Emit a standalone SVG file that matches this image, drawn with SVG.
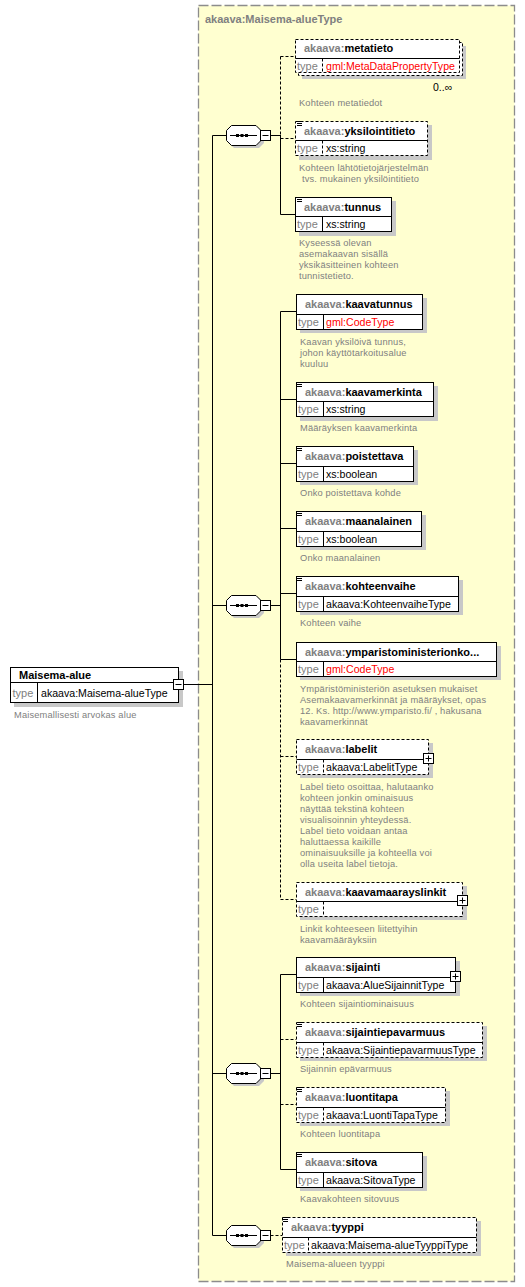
<svg xmlns="http://www.w3.org/2000/svg" width="525" height="1287" viewBox="0 0 525 1287">
<style>
text{font-family:"Liberation Sans",Arial,sans-serif}
.bx{fill:#fff;stroke:#000;stroke-width:1}
.dsh{stroke-dasharray:3,2}
.sh{fill:#c8c8c8}
.nm{font-size:11px;font-weight:bold;fill:#000}
.pf{fill:#808080}
.tl{font-size:11px;fill:#808080}
.tv{font-size:10.6px;fill:#000}
.red{fill:#f00}
.ds{font-size:9.3px;fill:#808080;letter-spacing:0.15px}
.ln{stroke:#000;stroke-width:1;fill:none}
.ico{stroke:#000;stroke-width:1}
.oc{fill:#fff;stroke:#000;stroke-width:1}
</style>
<rect x="198.5" y="5.5" width="316" height="1276" fill="#FFFFD0" stroke="#8c8c8c" stroke-width="1.3" stroke-dasharray="10,3"/>
<text x="205" y="23" style="font-size:11px;font-weight:bold;fill:#808080">akaava:Maisema-alueType</text>

<g id="connectors">
<line class="ln" x1="183" y1="684.5" x2="212.5" y2="684.5"/>
<line class="ln" x1="212.5" y1="135.5" x2="212.5" y2="1235.5"/>
<line class="ln" x1="212.5" y1="135.5" x2="226" y2="135.5"/>
<line class="ln" x1="212.5" y1="605.5" x2="226" y2="605.5"/>
<line class="ln" x1="212.5" y1="1073.5" x2="226" y2="1073.5"/>
<line class="ln" x1="212.5" y1="1235.5" x2="226" y2="1235.5"/>
<line class="ln" x1="270.5" y1="135.5" x2="281" y2="135.5"/>
<line class="ln dsh" x1="280.5" y1="56.5" x2="280.5" y2="135.5"/>
<line class="ln" x1="280.5" y1="135.5" x2="280.5" y2="214.5"/>
<line class="ln dsh" x1="280.5" y1="56.5" x2="295" y2="56.5"/>
<line class="ln dsh" x1="280.5" y1="138.5" x2="295" y2="138.5"/>
<line class="ln" x1="280.5" y1="214.5" x2="295" y2="214.5"/>
<line class="ln" x1="270.5" y1="605.5" x2="281" y2="605.5"/>
<line class="ln" x1="280.5" y1="311.5" x2="280.5" y2="659.5"/>
<line class="ln dsh" x1="280.5" y1="659.5" x2="280.5" y2="899.5"/>
<line class="ln" x1="280.5" y1="311.5" x2="296" y2="311.5"/>
<line class="ln" x1="280.5" y1="399.5" x2="296" y2="399.5"/>
<line class="ln" x1="280.5" y1="463.5" x2="296" y2="463.5"/>
<line class="ln" x1="280.5" y1="528.5" x2="296" y2="528.5"/>
<line class="ln" x1="280.5" y1="593.5" x2="296" y2="593.5"/>
<line class="ln" x1="280.5" y1="659.5" x2="296" y2="659.5"/>
<line class="ln dsh" x1="280.5" y1="756.5" x2="296" y2="756.5"/>
<line class="ln dsh" x1="280.5" y1="899.5" x2="296" y2="899.5"/>
<line class="ln" x1="270.5" y1="1073.5" x2="281" y2="1073.5"/>
<line class="ln" x1="280.5" y1="974.5" x2="280.5" y2="1169.5"/>
<line class="ln" x1="280.5" y1="974.5" x2="296" y2="974.5"/>
<line class="ln dsh" x1="280.5" y1="1039.5" x2="296" y2="1039.5"/>
<line class="ln dsh" x1="280.5" y1="1104.5" x2="296" y2="1104.5"/>
<line class="ln" x1="280.5" y1="1169.5" x2="296" y2="1169.5"/>
<line class="ln dsh" x1="270.5" y1="1235.5" x2="282" y2="1235.5"/>
</g>

<defs>
<g id="seqshape">
<polygon points="234,3 259,3 264,8 264,18 259,23 234,23 229,18 229,8" fill="#c8c8c8"/>
<polygon class="oc" points="231.5,0.5 256,0.5 261,5.5 261,15.5 256,20.5 231.5,20.5 226.5,15.5 226.5,5.5"/>
<line class="ln" x1="230" y1="10.5" x2="257" y2="10.5"/>
<rect x="236" y="9" width="3" height="3" fill="#000"/>
<rect x="240.5" y="9" width="3" height="3" fill="#000"/>
<rect x="245" y="9" width="3" height="3" fill="#000"/>
<rect class="oc" x="260.5" y="5.5" width="10" height="10"/>
<line class="ln" x1="262.5" y1="10.5" x2="268.5" y2="10.5"/>
</g>
<g id="icon">
<line class="ico" x1="0" y1="0.5" x2="5" y2="0.5"/>
<line class="ico" x1="0" y1="2.5" x2="5" y2="2.5"/>
<line class="ico" x1="0" y1="4.5" x2="5" y2="4.5"/>
</g>
<g id="plus">
<rect class="oc" x="-5" y="0.5" width="10" height="10"/>
<line class="ln" x1="-3" y1="5.5" x2="3" y2="5.5"/>
<line class="ln" x1="0" y1="2.5" x2="0" y2="8.5"/>
</g>
</defs>

<g id="seq1"><use href="#seqshape" x="0" y="125"/></g>
<g id="seq2"><use href="#seqshape" x="0" y="595"/></g>
<g id="seq3"><use href="#seqshape" x="0" y="1063"/></g>
<g id="seq4"><use href="#seqshape" x="0" y="1225"/></g>

<g id="node-maisema-alue">
<rect class="sh" x="14" y="671" width="169" height="36"/>
<rect class="bx" x="10.5" y="667.5" width="168" height="35"/>
<line class="ln" x1="10.5" y1="682.5" x2="178.5" y2="682.5"/>
<line class="ln" x1="37.5" y1="682.5" x2="37.5" y2="702.5"/>
<text class="nm" x="19" y="679">Maisema-alue</text>
<text class="tl" x="12.5" y="697">type</text>
<text class="tv" x="41" y="697">akaava:Maisema-alueType</text>
<rect class="oc" x="173.5" y="679.5" width="10" height="10"/>
<line class="ln" x1="175.5" y1="684.5" x2="181.5" y2="684.5"/>
<text class="ds" x="14" y="718">Maisemallisesti arvokas alue</text>
</g>

<g id="node-metatieto">
<rect class="sh" x="302" y="46" width="164" height="33"/>
<rect class="bx dsh" x="298.5" y="42.5" width="164" height="33"/>
<rect class="bx dsh" x="295.5" y="39.5" width="164" height="33"/>
<line class="ln" x1="295.5" y1="58.5" x2="459.5" y2="58.5"/>
<line class="ln dsh" x1="322.5" y1="58.5" x2="322.5" y2="72.5"/>
<text class="nm" x="304" y="52"><tspan class="pf">akaava:</tspan>metatieto</text>
<text class="tl" x="297" y="70">type</text>
<text class="tv red" x="326" y="70">gml:MetaDataPropertyType</text>
<text x="433" y="91" style="font-size:10.5px;fill:#000">0..∞</text>
<text class="ds" x="299" y="106">Kohteen metatiedot</text>
</g>

<g id="node-yksilointitieto">
<rect class="sh" x="299" y="125" width="133" height="35"/>
<rect class="bx dsh" x="295.5" y="121.5" width="132" height="34"/>
<line class="ln" x1="295.5" y1="140.5" x2="427.5" y2="140.5"/>
<line class="ln dsh" x1="322.5" y1="140.5" x2="322.5" y2="155.5"/>
<use href="#icon" x="297" y="121"/>
<text class="nm" x="304" y="135"><tspan class="pf">akaava:</tspan>yksilointitieto</text>
<text class="tl" x="297" y="152">type</text>
<text class="tv" x="326" y="152">xs:string</text>
<text class="ds" x="299" y="171">Kohteen lähtötietojärjestelmän</text>
<text class="ds" x="302" y="182">tvs. mukainen yksilöintitieto</text>
</g>

<g id="node-tunnus">
<rect class="sh" x="299" y="201" width="97" height="35"/>
<rect class="bx" x="295.5" y="197.5" width="96" height="34"/>
<line class="ln" x1="295.5" y1="216.5" x2="391.5" y2="216.5"/>
<line class="ln" x1="322.5" y1="216.5" x2="322.5" y2="231.5"/>
<use href="#icon" x="297" y="197"/>
<text class="nm" x="304" y="211"><tspan class="pf">akaava:</tspan>tunnus</text>
<text class="tl" x="297" y="228">type</text>
<text class="tv" x="326" y="228">xs:string</text>
<text class="ds" x="299" y="246">Kyseessä olevan</text>
<text class="ds" x="299" y="257">asemakaavan sisällä</text>
<text class="ds" x="299" y="268">yksikäsitteinen kohteen</text>
<text class="ds" x="299" y="279">tunnistetieto.</text>
</g>

<g id="node-kaavatunnus">
<rect class="sh" x="300" y="298" width="127" height="35"/>
<rect class="bx" x="296.5" y="294.5" width="126" height="35"/>
<line class="ln" x1="296.5" y1="314.5" x2="422.5" y2="314.5"/>
<line class="ln" x1="323.5" y1="314.5" x2="323.5" y2="329.5"/>
<text class="nm" x="305" y="308"><tspan class="pf">akaava:</tspan>kaavatunnus</text>
<text class="tl" x="298" y="326">type</text>
<text class="tv red" x="326" y="326">gml:CodeType</text>
<text class="ds" x="300" y="345">Kaavan yksilöivä tunnus,</text>
<text class="ds" x="300" y="356">johon käyttötarkoitusalue</text>
<text class="ds" x="300" y="367">kuuluu</text>
</g>

<g id="node-kaavamerkinta">
<rect class="sh" x="300" y="386" width="138" height="35"/>
<rect class="bx" x="296.5" y="382.5" width="137" height="34"/>
<line class="ln" x1="296.5" y1="401.5" x2="433.5" y2="401.5"/>
<line class="ln" x1="323.5" y1="401.5" x2="323.5" y2="416.5"/>
<use href="#icon" x="297" y="382"/>
<text class="nm" x="305" y="396"><tspan class="pf">akaava:</tspan>kaavamerkinta</text>
<text class="tl" x="298" y="413">type</text>
<text class="tv" x="326" y="413">xs:string</text>
<text class="ds" x="300" y="431">Määräyksen kaavamerkinta</text>
</g>

<g id="node-poistettava">
<rect class="sh" x="300" y="450" width="118" height="35"/>
<rect class="bx" x="296.5" y="446.5" width="117" height="35"/>
<line class="ln" x1="296.5" y1="466.5" x2="413.5" y2="466.5"/>
<line class="ln" x1="323.5" y1="466.5" x2="323.5" y2="481.5"/>
<use href="#icon" x="297" y="446"/>
<text class="nm" x="305" y="460"><tspan class="pf">akaava:</tspan>poistettava</text>
<text class="tl" x="298" y="478">type</text>
<text class="tv" x="326" y="478">xs:boolean</text>
<text class="ds" x="300" y="496">Onko poistettava kohde</text>
</g>

<g id="node-maanalainen">
<rect class="sh" x="300" y="515" width="126" height="35"/>
<rect class="bx" x="296.5" y="511.5" width="125" height="35"/>
<line class="ln" x1="296.5" y1="531.5" x2="421.5" y2="531.5"/>
<line class="ln" x1="323.5" y1="531.5" x2="323.5" y2="546.5"/>
<use href="#icon" x="297" y="511"/>
<text class="nm" x="305" y="525"><tspan class="pf">akaava:</tspan>maanalainen</text>
<text class="tl" x="298" y="543">type</text>
<text class="tv" x="326" y="543">xs:boolean</text>
<text class="ds" x="300" y="561">Onko maanalainen</text>
</g>

<g id="node-kohteenvaihe">
<rect class="sh" x="300" y="580" width="163" height="35"/>
<rect class="bx" x="296.5" y="576.5" width="162" height="35"/>
<line class="ln" x1="296.5" y1="596.5" x2="458.5" y2="596.5"/>
<line class="ln" x1="323.5" y1="596.5" x2="323.5" y2="611.5"/>
<use href="#icon" x="297" y="576"/>
<text class="nm" x="305" y="590"><tspan class="pf">akaava:</tspan>kohteenvaihe</text>
<text class="tl" x="298" y="608">type</text>
<text class="tv" x="326" y="608">akaava:KohteenvaiheType</text>
<text class="ds" x="300" y="626">Kohteen vaihe</text>
</g>

<g id="node-ymparistoministerionkoodi">
<rect class="sh" x="300" y="646" width="201" height="34"/>
<rect class="bx" x="296.5" y="642.5" width="200" height="34"/>
<line class="ln" x1="296.5" y1="661.5" x2="496.5" y2="661.5"/>
<line class="ln" x1="323.5" y1="661.5" x2="323.5" y2="676.5"/>
<text class="nm" x="305" y="656"><tspan class="pf">akaava:</tspan>ymparistoministerionko...</text>
<text class="tl" x="298" y="673">type</text>
<text class="tv red" x="326" y="673">gml:CodeType</text>
<text class="ds" x="300" y="692">Ympäristöministeriön asetuksen mukaiset</text>
<text class="ds" x="300" y="703">Asemakaavamerkinnät ja määräykset, opas</text>
<text class="ds" x="300" y="714">12. Ks. http://www.ymparisto.fi/ , hakusana</text>
<text class="ds" x="300" y="725">kaavamerkinnät</text>
</g>

<g id="node-labelit">
<rect class="sh" x="300" y="743" width="133" height="35"/>
<rect class="bx dsh" x="296.5" y="739.5" width="132" height="35"/>
<line class="ln" x1="296.5" y1="759.5" x2="428.5" y2="759.5"/>
<line class="ln dsh" x1="323.5" y1="759.5" x2="323.5" y2="774.5"/>
<text class="nm" x="305" y="753"><tspan class="pf">akaava:</tspan>labelit</text>
<text class="tl" x="298" y="771">type</text>
<text class="tv" x="326" y="771">akaava:LabelitType</text>
<use href="#plus" x="428.5" y="753"/>
<text class="ds" x="300" y="790">Label tieto osoittaa, halutaanko</text>
<text class="ds" x="300" y="801">kohteen jonkin ominaisuus</text>
<text class="ds" x="300" y="812">näyttää tekstinä kohteen</text>
<text class="ds" x="300" y="823">visualisoinnin yhteydessä.</text>
<text class="ds" x="300" y="834">Label tieto voidaan antaa</text>
<text class="ds" x="300" y="845">haluttaessa kaikille</text>
<text class="ds" x="300" y="856">ominaisuuksille ja kohteella voi</text>
<text class="ds" x="300" y="867">olla useita label tietoja.</text>
</g>

<g id="node-kaavamaarayslinkit">
<rect class="sh" x="300" y="886" width="167" height="34"/>
<rect class="bx dsh" x="296.5" y="882.5" width="166" height="34"/>
<line class="ln" x1="296.5" y1="901.5" x2="462.5" y2="901.5"/>
<line class="ln dsh" x1="323.5" y1="901.5" x2="323.5" y2="916.5"/>
<text class="nm" x="305" y="896"><tspan class="pf">akaava:</tspan>kaavamaarayslinkit</text>
<text class="tl" x="298" y="913">type</text>
<use href="#plus" x="462.5" y="895"/>
<text class="ds" x="300" y="932">Linkit kohteeseen liitettyihin</text>
<text class="ds" x="300" y="943">kaavamääräyksiin</text>
</g>

<g id="node-sijainti">
<rect class="sh" x="300" y="961" width="160" height="35"/>
<rect class="bx" x="296.5" y="957.5" width="159" height="35"/>
<line class="ln" x1="296.5" y1="977.5" x2="455.5" y2="977.5"/>
<line class="ln" x1="323.5" y1="977.5" x2="323.5" y2="992.5"/>
<text class="nm" x="305" y="971"><tspan class="pf">akaava:</tspan>sijainti</text>
<text class="tl" x="298" y="989">type</text>
<text class="tv" x="326" y="989">akaava:AlueSijainnitType</text>
<use href="#plus" x="455.5" y="971"/>
<text class="ds" x="300" y="1007">Kohteen sijaintiominaisuus</text>
</g>

<g id="node-sijaintiepavarmuus">
<rect class="sh" x="300" y="1026" width="187" height="35"/>
<rect class="bx dsh" x="296.5" y="1022.5" width="186" height="35"/>
<line class="ln" x1="296.5" y1="1042.5" x2="482.5" y2="1042.5"/>
<line class="ln dsh" x1="323.5" y1="1042.5" x2="323.5" y2="1057.5"/>
<use href="#icon" x="297" y="1022"/>
<text class="nm" x="305" y="1036"><tspan class="pf">akaava:</tspan>sijaintiepavarmuus</text>
<text class="tl" x="298" y="1054">type</text>
<text class="tv" x="326" y="1054">akaava:SijaintiepavarmuusType</text>
<text class="ds" x="300" y="1072">Sijainnin epävarmuus</text>
</g>

<g id="node-luontitapa">
<rect class="sh" x="300" y="1091" width="150" height="35"/>
<rect class="bx dsh" x="296.5" y="1087.5" width="149" height="35"/>
<line class="ln" x1="296.5" y1="1107.5" x2="445.5" y2="1107.5"/>
<line class="ln dsh" x1="323.5" y1="1107.5" x2="323.5" y2="1122.5"/>
<use href="#icon" x="297" y="1087"/>
<text class="nm" x="305" y="1101"><tspan class="pf">akaava:</tspan>luontitapa</text>
<text class="tl" x="298" y="1119">type</text>
<text class="tv" x="326" y="1119">akaava:LuontiTapaType</text>
<text class="ds" x="300" y="1137">Kohteen luontitapa</text>
</g>

<g id="node-sitova">
<rect class="sh" x="300" y="1156" width="127" height="35"/>
<rect class="bx" x="296.5" y="1152.5" width="126" height="35"/>
<line class="ln" x1="296.5" y1="1172.5" x2="422.5" y2="1172.5"/>
<line class="ln" x1="323.5" y1="1172.5" x2="323.5" y2="1187.5"/>
<use href="#icon" x="297" y="1152"/>
<text class="nm" x="305" y="1166"><tspan class="pf">akaava:</tspan>sitova</text>
<text class="tl" x="298" y="1184">type</text>
<text class="tv" x="326" y="1184">akaava:SitovaType</text>
<text class="ds" x="300" y="1202">Kaavakohteen sitovuus</text>
</g>

<g id="node-tyyppi">
<rect class="sh" x="286" y="1221" width="195" height="35"/>
<rect class="bx dsh" x="282.5" y="1217.5" width="194" height="35"/>
<line class="ln" x1="282.5" y1="1237.5" x2="476.5" y2="1237.5"/>
<line class="ln dsh" x1="308.5" y1="1237.5" x2="308.5" y2="1252.5"/>
<use href="#icon" x="283" y="1217"/>
<text class="nm" x="291" y="1231"><tspan class="pf">akaava:</tspan>tyyppi</text>
<text class="tl" x="284" y="1249">type</text>
<text class="tv" x="311" y="1249">akaava:Maisema-alueTyyppiType</text>
<text class="ds" x="286" y="1267">Maisema-alueen tyyppi</text>
</g>
</svg>
